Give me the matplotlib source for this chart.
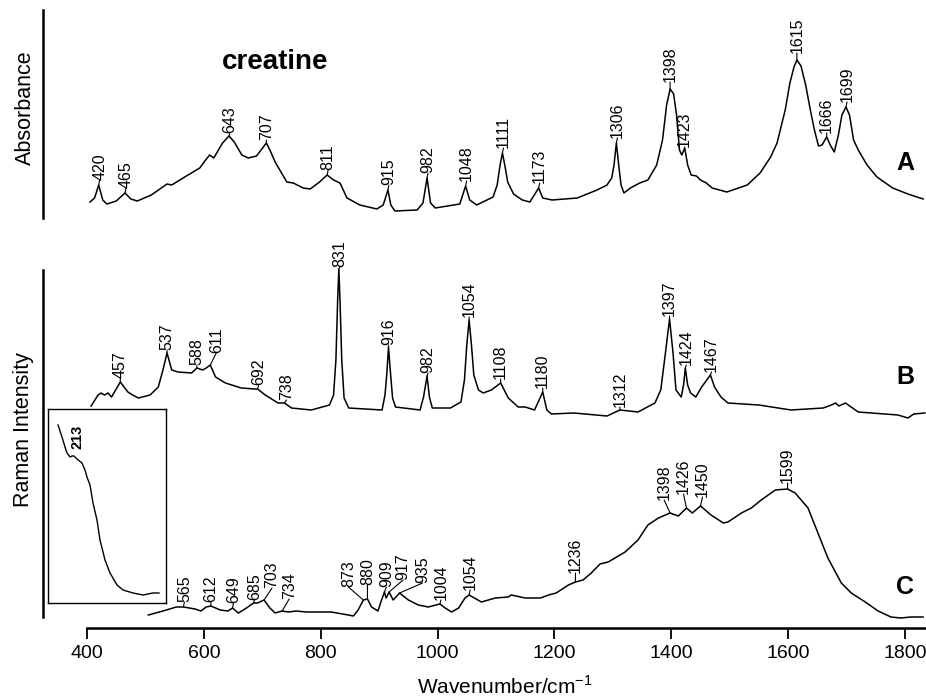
import matplotlib
matplotlib.use("Agg")
import matplotlib.pyplot as plt
import numpy as np
from matplotlib import font_manager

plt.rcParams['font.family'] = ['Liberation Sans', 'DejaVu Sans']
plt.rcParams['mathtext.fontset'] = 'custom'
plt.rcParams['mathtext.rm'] = 'Liberation Sans'

# ---- data (wavenumber / cm-1, intensity in arb. units) ----
# A: IR absorbance
ir_pts = [(405, 16), (413, 20), (420, 33), (427, 18), (434, 14), (450, 17), (465, 25),
          (475, 19), (486, 17), (510, 23), (537, 34), (545, 33), (570, 42), (593, 50),
          (603, 58), (610, 63), (617, 60), (625, 68), (632, 75), (643, 82), (652, 76),
          (665, 63), (676, 60), (690, 62), (698, 68), (707, 75), (713, 68), (722, 56),
          (730, 48), (742, 36), (753, 35), (770, 30), (782, 29), (798, 36), (811, 43),
          (822, 38), (833, 35), (845, 20), (867, 13), (896, 9), (907, 13), (915, 28),
          (920, 13), (927, 7), (965, 8), (975, 15), (982, 40), (988, 15), (996, 10),
          (1038, 14), (1048, 32), (1055, 18), (1067, 13), (1095, 21), (1102, 33),
          (1107, 53), (1111, 65), (1115, 53), (1120, 36), (1130, 24), (1145, 18),
          (1158, 16), (1173, 30), (1180, 20), (1196, 18), (1239, 20), (1273, 28),
          (1290, 33), (1298, 40), (1302, 53), (1306, 75), (1310, 53), (1314, 33),
          (1319, 25), (1330, 30), (1346, 35), (1360, 38), (1375, 53), (1385, 78),
          (1392, 113), (1398, 129), (1404, 124), (1409, 103), (1414, 68), (1418, 63),
          (1423, 70), (1428, 53), (1434, 43), (1443, 42), (1450, 38), (1460, 35),
          (1470, 30), (1495, 26), (1530, 33), (1552, 45), (1570, 61), (1581, 75),
          (1595, 108), (1603, 135), (1610, 151), (1615, 158), (1622, 152), (1630, 133),
          (1638, 108), (1645, 88), (1652, 72), (1658, 73), (1666, 81), (1672, 73),
          (1679, 66), (1686, 83), (1692, 103), (1699, 111), (1705, 103), (1712, 78),
          (1720, 68), (1735, 53), (1752, 41), (1779, 30), (1805, 24), (1831, 19)]
ir_peaks = [420, 465, 643, 707, 811, 915, 982, 1048, 1111, 1173, 1306, 1398, 1423,
            1615, 1666, 1699]

# B: Raman
raman_pts = [(407, 14), (419, 25), (424, 27), (430, 25), (436, 27), (442, 23), (457, 38),
             (470, 28), (478, 25), (488, 22), (508, 25), (522, 33), (530, 50), (537, 67),
             (545, 50), (556, 48), (579, 47), (588, 52), (598, 50), (604, 52), (611, 55),
             (620, 43), (637, 37), (664, 32), (687, 31), (692, 31), (705, 25), (727, 17),
             (738, 17), (750, 12), (784, 10), (815, 15), (822, 25), (826, 60), (829, 120),
             (831, 151), (833, 120), (836, 60), (840, 22), (848, 12), (905, 10), (910, 25),
             (913, 45), (916, 73), (919, 50), (923, 22), (928, 13), (970, 10), (976, 23),
             (982, 44), (986, 23), (991, 12), (1022, 12), (1040, 18), (1046, 40),
             (1050, 75), (1054, 100), (1058, 75), (1062, 45), (1070, 30), (1078, 27),
             (1092, 30), (1108, 37), (1121, 22), (1138, 13), (1150, 13), (1166, 10),
             (1180, 28), (1187, 10), (1195, 6), (1233, 7), (1290, 4), (1312, 10),
             (1343, 8), (1372, 17), (1382, 30), (1390, 67), (1397, 101), (1403, 67),
             (1408, 30), (1417, 23), (1421, 35), (1424, 52), (1428, 35), (1433, 27),
             (1442, 23), (1452, 33), (1467, 45), (1474, 33), (1485, 23), (1497, 17),
             (1550, 15), (1605, 10), (1660, 12), (1674, 15), (1681, 17), (1687, 14),
             (1698, 17), (1720, 8), (1788, 5), (1805, 2), (1815, 6), (1834, 7)]
raman_peaks = [457, 537, 588, 611, 692, 738, 831, 916, 982, 1054, 1108, 1180, 1312,
               1397, 1424, 1467]

# C: Raman (second spectrum)
sers_pts = [(505, 5), (530, 9), (553, 13), (565, 13), (585, 11), (595, 9), (604, 13),
            (612, 14), (628, 10), (641, 9), (649, 12), (659, 7), (673, 12), (685, 17),
            (692, 17), (703, 20), (713, 12), (722, 7), (734, 9), (745, 8), (758, 9),
            (775, 8), (818, 8), (847, 5), (856, 4), (864, 10), (873, 20), (880, 21),
            (887, 13), (898, 9), (903, 18), (909, 28), (912, 22), (917, 28), (924, 20),
            (935, 27), (950, 20), (967, 15), (984, 13), (1004, 16), (1013, 12), (1024, 8),
            (1036, 12), (1047, 22), (1054, 25), (1075, 18), (1099, 22), (1121, 23),
            (1126, 25), (1150, 22), (1176, 22), (1190, 25), (1203, 27), (1224, 35),
            (1236, 38), (1249, 40), (1263, 47), (1278, 56), (1292, 58), (1321, 68),
            (1343, 80), (1360, 95), (1378, 102), (1398, 107), (1412, 104), (1426, 112),
            (1436, 107), (1450, 114), (1468, 105), (1489, 97), (1497, 98), (1520, 107),
            (1537, 112), (1554, 120), (1578, 130), (1599, 131), (1612, 127), (1634, 112),
            (1651, 87), (1668, 62), (1691, 37), (1708, 27), (1732, 18), (1754, 9),
            (1776, 3), (1793, 2), (1810, 3), (1831, 3)]
sers_peaks = [565, 612, 649, 685, 703, 734, 873, 880, 909, 917, 935, 1004, 1054, 1236,
              1398, 1426, 1450, 1599]

# inset: low-wavenumber region
inset_pts = [(177, 178), (189, 166), (198, 156), (204, 150), (213, 146), (219, 147),
             (225, 147), (234, 144), (249, 140), (258, 133), (264, 126), (273, 118),
             (282, 100), (294, 83), (303, 63), (318, 43), (333, 30), (354, 18), (372, 13),
             (402, 10), (432, 8), (462, 10), (480, 10)]

ticks = [400, 600, 800, 1000, 1200, 1400, 1600, 1800]

# label offsets in pixels (dx, dy); default is (1, 5)
ir_off = {643: (1, 3), 707: (0, 3), 1398: (0, 7), 1423: (0, 1), 1615: (0, 7), 1666: (0, 4)}
raman_off = {457: (0, 4), 537: (0, 3), 588: (0, 3), 611: (6, 12), 692: (1, 4), 738: (2, 3),
             831: (1, 2), 916: (0, 2), 982: (1, 3), 1054: (0, 3), 1108: (0, 4),
             1180: (0, 4), 1312: (0, 3), 1397: (0, 3), 1424: (1, 3), 1467: (1, 3)}
sers_off = {612: (0, 4), 685: (1, 3), 703: (8, 12), 734: (7, 12), 873: (-15, 13),
            880: (0, 14), 909: (2, 5), 917: (14, 12), 935: (23, 10), 1004: (1, 4),
            1236: (0, 9), 1398: (-6, 13), 1426: (-3, 14), 1450: (2, 9), 1599: (0, 6)}

ir_wn, ir_val = np.array(ir_pts, dtype=float).T
ra_wn, ra_val = np.array(raman_pts, dtype=float).T
se_wn, se_val = np.array(sers_pts, dtype=float).T
in_wn, in_val = np.array(inset_pts, dtype=float).T

names = {f.name for f in font_manager.fontManager.ttflist}
if 'Liberation Sans Narrow' in names:
    lab_font, lab_size = 'Liberation Sans Narrow', 12
else:
    lab_font, lab_size = 'Liberation Sans', 11.5

W, H = 926, 697
fig = plt.figure(figsize=(W / 100, H / 100), dpi=100)


def box(l, t, r, b):
    return [l / W, 1 - b / H, (r - l) / W, (b - t) / H]


k = (905 - 87) / 1400.0
xlim = (400 - (87 - 43) / k, 400 + (926 - 87) / k)


def label_peaks(ax, wn, val, peaks, offs, shift=0):
    for p in peaks:
        y = np.interp(p, wn, val) + shift
        dx, dy = offs.get(p, (1, 5))
        ax.annotate(str(p), xy=(p, y), xytext=(dx, dy), textcoords='offset pixels',
                    rotation=90, ha='center', va='bottom', fontsize=lab_size,
                    family=lab_font,
                    bbox=dict(boxstyle='square,pad=0', fc='none', ec='none'),
                    arrowprops=dict(arrowstyle='-', lw=0.8, color='black',
                                    shrinkA=0, shrinkB=0, relpos=(0.5, 0)))


# A panel
axA = fig.add_axes(box(43, 10, 926, 218))
axA.set_xlim(xlim)
axA.set_ylim(0, 208)
for s in ['top', 'right', 'bottom']:
    axA.spines[s].set_visible(False)
axA.spines['left'].set_linewidth(1.8)
axA.set_xticks([])
axA.set_yticks([])
axA.patch.set_visible(False)
axA.plot(ir_wn, ir_val, color='black', lw=1.1)
label_peaks(axA, ir_wn, ir_val, ir_peaks, ir_off)

# B and C panel (shared Raman axis), top extended so the 831 band fits
axR = fig.add_axes(box(43, 230, 926, 628))
axR.set_xlim(xlim)
axR.set_ylim(0, 398)
axR.spines['top'].set_visible(False)
axR.spines['right'].set_visible(False)
axR.spines['left'].set_linewidth(1.8)
axR.spines['left'].set_bounds(11, 358)
axR.spines['bottom'].set_linewidth(1.8)
axR.spines['bottom'].set_bounds(400, xlim[1])
axR.set_yticks([])
axR.set_xticks(ticks)
axR.tick_params(axis='x', direction='out', length=8, width=1.3, labelsize=14, pad=4)
axR.patch.set_visible(False)
offB, offC = 208, 8
axR.plot(ra_wn, ra_val + offB, color='black', lw=1.1)
axR.plot(se_wn, se_val + offC, color='black', lw=1.1)
label_peaks(axR, ra_wn, ra_val, raman_peaks, raman_off, shift=offB)
label_peaks(axR, se_wn, se_val, sers_peaks, sers_off, shift=offC)

# inset
axI = fig.add_axes(box(48, 409, 166, 603))
axI.set_xlim(147, 501)
axI.set_ylim(0, 194)
axI.set_xticks([])
axI.set_yticks([])
for s in axI.spines.values():
    s.set_linewidth(1.0)
axI.plot(in_wn, in_val, color='black', lw=1.0)
axI.annotate('213', xy=(213, np.interp(213, in_wn, in_val)), xytext=(8, 20),
             textcoords='offset pixels', rotation=90, ha='center', va='center',
             fontsize=10.5, fontweight='bold')

# texts
fig.text(25 / W, 1 - 108 / H, 'Absorbance', rotation=90, ha='center', va='center',
         fontsize=15.5)
fig.text(24 / W, 1 - 430 / H, 'Raman Intensity', rotation=90, ha='center', va='center',
         fontsize=15.5)
fig.text(505 / W, 1 - 687 / H, 'Wavenumber/cm$^{-1}$', ha='center', va='center',
         fontsize=15)
fig.text(275 / W, 1 - 62 / H, 'creatine', ha='center', va='center', fontsize=20,
         fontweight='bold')
for lab, yy in [('A', 163), ('B', 377), ('C', 587)]:
    fig.text(905 / W, 1 - yy / H, lab, ha='center', va='center', fontsize=18,
             fontweight='bold')

fig.savefig('out.png', dpi=100)
